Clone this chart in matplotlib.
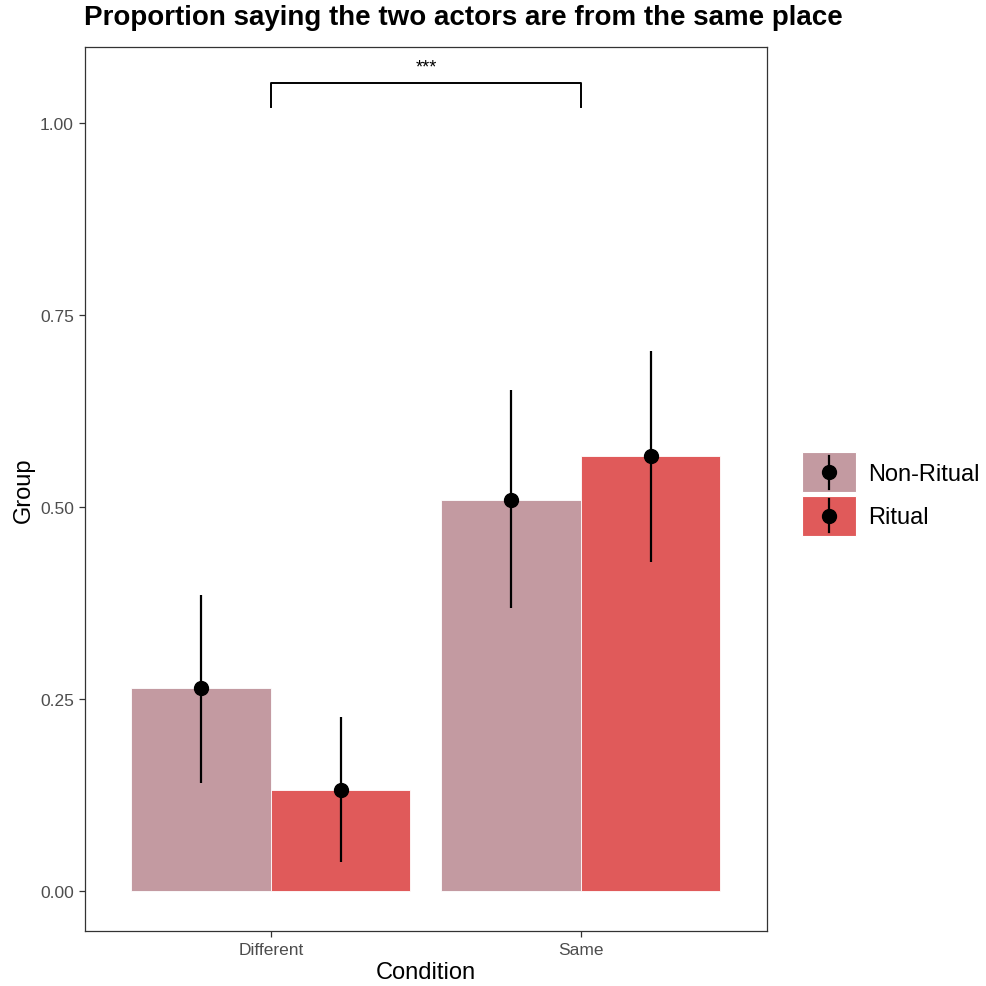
import matplotlib.pyplot as plt
import numpy as np
from matplotlib.patches import Patch, Rectangle
from matplotlib.lines import Line2D

# proportions and 95% intervals per condition / group
conditions = ["Different", "Same"]
groups = ["Non-Ritual", "Ritual"]
colors = ["#C39AA1", "#E05A5A"]
means = {"Non-Ritual": [0.264, 0.509], "Ritual": [0.131, 0.566]}
lower = {"Non-Ritual": [0.141, 0.368], "Ritual": [0.038, 0.428]}
upper = {"Non-Ritual": [0.386, 0.652], "Ritual": [0.226, 0.703]}

# significance bracket between the two conditions
bracket_x = [1, 2]
bracket_y = [1.021, 1.052]
bracket_label = "***"

plt.rcParams['font.family'] = ['Liberation Sans', 'DejaVu Sans']


class PointRangeKey:
    """legend key: filled box with a point-range drawn on top"""
    def legend_artist(self, legend, orig_handle, fontsize, handlebox):
        x0, y0 = -handlebox.xdescent, -handlebox.ydescent
        w, h = handlebox.width, handlebox.height
        tr = handlebox.get_transform()
        rect = Rectangle((x0, y0), w, h, facecolor=orig_handle.get_facecolor(),
                         edgecolor="white", linewidth=0.8, transform=tr)
        line = Line2D([x0 + w / 2] * 2, [y0 + 0.08 * h, y0 + 0.92 * h],
                      color="black", linewidth=1.6, transform=tr)
        dot = Line2D([x0 + w / 2], [y0 + h / 2], marker="o", ms=10, color="black",
                     ls="", transform=tr)
        handlebox.add_artist(rect)
        handlebox.add_artist(line)
        handlebox.add_artist(dot)
        return rect


fig = plt.figure(figsize=(9.87, 9.87), dpi=100)
ax = fig.add_axes([0.0861, 0.0557, 0.6909, 0.8957])

width = 0.45
x = np.arange(1, len(conditions) + 1)
for i, g in enumerate(groups):
    pos = x + (i - 0.5) * width
    m = np.array(means[g])
    ax.bar(pos, m, width=width, color=colors[i], edgecolor="white", linewidth=0.6, zorder=1)
    ax.vlines(pos, lower[g], upper[g], color="black", linewidth=1.6, zorder=2)
    ax.plot(pos, m, "o", color="black", ms=10, zorder=3)

ax.plot([bracket_x[0], bracket_x[0], bracket_x[1], bracket_x[1]],
        [bracket_y[0], bracket_y[1], bracket_y[1], bracket_y[0]],
        color="black", linewidth=1.4)
ax.text(np.mean(bracket_x), bracket_y[1] + 0.01, bracket_label, ha="center", va="bottom", fontsize=13)

ax.set_xlim(0.4, 2.6)
ax.set_ylim(-0.052, 1.099)
ax.set_xticks(x)
ax.set_xticklabels(conditions)
ax.set_yticks([0, 0.25, 0.5, 0.75, 1.0])
ax.set_yticklabels(["0.00", "0.25", "0.50", "0.75", "1.00"])
ax.tick_params(colors="#333333", labelcolor="#4D4D4D", labelsize=12.5, length=4, width=0.9, pad=4)
for s in ax.spines.values():
    s.set_color("#333333")
    s.set_linewidth(0.9)

ax.set_xlabel("Condition", fontsize=17, labelpad=3)
ax.set_ylabel("Group", fontsize=17, labelpad=4)
fig.text(0.085, 0.982, "Proportion saying the two actors are from the same place",
         fontsize=20, fontweight="bold", ha="left", va="center")

handles = [Patch(facecolor=c) for c in colors]
fig.legend(handles, groups, handler_map={Patch: PointRangeKey()},
           loc="center left", bbox_to_anchor=(0.8126, 0.4985), frameon=False,
           fontsize=17, handlelength=2.29, handleheight=2.23, handletextpad=0.5,
           labelspacing=0.13, borderpad=0, borderaxespad=0)

fig.savefig("out.png", dpi=100)
